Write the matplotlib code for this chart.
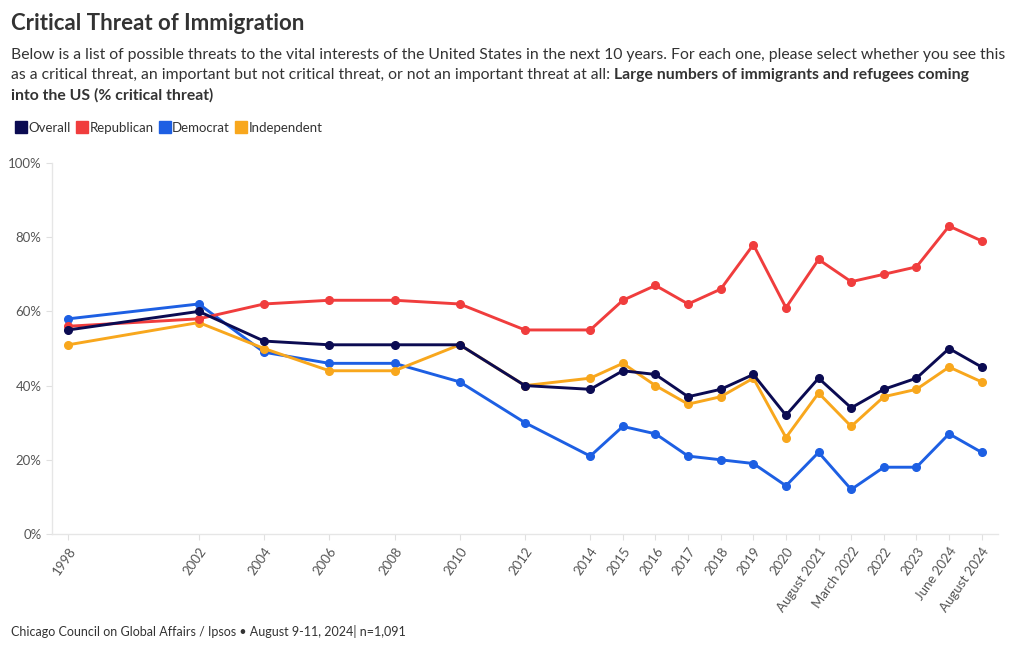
import matplotlib.pyplot as plt
from matplotlib.lines import Line2D

plt.rcParams['font.family'] = ['Lato', 'DejaVu Sans']

# x-axis: survey waves, x_pos gives their place on the axis (years apart early on, one step each later)
waves = ["1998", "2002", "2004", "2006", "2008", "2010", "2012", "2014", "2015", "2016",
         "2017", "2018", "2019", "2020", "August 2021", "March 2022", "2022", "2023",
         "June 2024", "August 2024"]
x_pos = [0, 4, 6, 8, 10, 12, 14, 16, 17, 18, 19, 20, 21, 22, 23, 24, 25, 26, 27, 28]

overall = [55, 60, 52, 51, 51, 51, 40, 39, 44, 43, 37, 39, 43, 32, 42, 34, 39, 42, 50, 45]
republican = [56, 58, 62, 63, 63, 62, 55, 55, 63, 67, 62, 66, 78, 61, 74, 68, 70, 72, 83, 79]
democrat = [58, 62, 49, 46, 46, 41, 30, 21, 29, 27, 21, 20, 19, 13, 22, 12, 18, 18, 27, 22]
independent = [51, 57, 50, 44, 44, 51, 40, 42, 46, 40, 35, 37, 42, 26, 38, 29, 37, 39, 45, 41]

series = [("Overall", overall, "#0b0b52"),
          ("Republican", republican, "#f03d3d"),
          ("Democrat", democrat, "#1d5fe3"),
          ("Independent", independent, "#f8a71d")]

fig = plt.figure(figsize=(10.2, 6.5), dpi=100)
ax = fig.add_axes([52 / 1020, 1 - 534 / 650, (998 - 52) / 1020, (534 - 163) / 650])

# draw order: Overall on top
for name, vals, col in [series[2], series[3], series[1], series[0]]:
    ax.plot(x_pos, vals, color=col, lw=2.1, marker='o', ms=5.5, zorder=3,
            solid_capstyle='round', solid_joinstyle='round')

ax.set_xlim(-0.5, 28.5)
ax.set_ylim(0, 100)
ax.set_yticks([0, 20, 40, 60, 80, 100])
ax.set_yticklabels([f"{v}%" for v in [0, 20, 40, 60, 80, 100]])
ax.set_xticks(x_pos)
ax.set_xticklabels(waves, rotation=55, ha='right', rotation_mode='anchor')

for s in ['top', 'right']:
    ax.spines[s].set_visible(False)
for s in ['left', 'bottom']:
    ax.spines[s].set_color('#e6e6e6')
    ax.spines[s].set_linewidth(1)
ax.tick_params(axis='both', colors='#e0e0e0', labelcolor='#555555', labelsize=9.5, length=4)
ax.tick_params(axis='x', pad=4)

fig.text(11 / 1020, 1 - 24 / 650, "Critical Threat of Immigration", fontsize=16,
         fontweight='bold', color='#333333', va='center')
sub_kw = dict(fontsize=11.3, color='#333333', va='center')
fig.text(11 / 1020, 1 - 55 / 650,
         "Below is a list of possible threats to the vital interests of the United States in the next 10 years. "
         "For each one, please select whether you see this", **sub_kw)
t = fig.text(11 / 1020, 1 - 75 / 650,
             "as a critical threat, an important but not critical threat, or not an important threat at all: ",
             **sub_kw)
fig.canvas.draw()
bb = t.get_window_extent()
fig.text(bb.x1 / 1020, 1 - 75 / 650,
         "Large numbers of immigrants and refugees coming", fontweight='bold', **sub_kw)
fig.text(11 / 1020, 1 - 95 / 650, "into the US (% critical threat)", fontweight='bold', **sub_kw)

handles = [Line2D([], [], ls='none', marker='s', ms=9, color=c) for _, _, c in series]
fig.legend(handles, [n for n, _, _ in series], loc='center left',
           bbox_to_anchor=(5 / 1020, 1 - 128 / 650), ncol=4, frameon=False,
           handlelength=0.7, handletextpad=0.2, columnspacing=0.5, fontsize=9.5,
           labelcolor='#333333')

fig.text(11 / 1020, 1 - 632 / 650,
         "Chicago Council on Global Affairs / Ipsos \u2022 August 9-11, 2024| n=1,091",
         fontsize=9, color='#333333', va='center')

fig.savefig('out.png', dpi=100)
